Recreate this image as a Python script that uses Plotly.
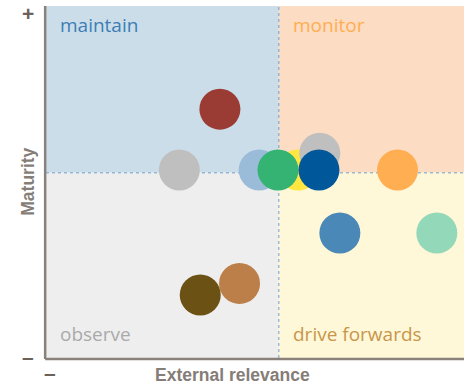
import plotly.graph_objects as go

# Bubble data (axis units 0-10)
names = ["A", "B", "C", "D", "E", "F", "G", "H", "I", "J", "K", "L"]
x_vals = [4.16, 3.19, 5.10, 6.03, 6.55, 5.55, 6.53, 8.41, 7.03, 9.35, 4.63, 3.69]
y_vals = [7.07, 5.34, 5.34, 5.34, 5.82, 5.34, 5.34, 5.34, 3.55, 3.55, 2.12, 1.79]
colors = ["#9a3c34", "#bfbfbf", "#9bbcd8", "#ffe640", "#bfbfbf", "#35b373",
          "#00589a", "#ffae52", "#4a88b8", "#93d8b8", "#bd7f4a", "#6b5214"]

x_mid = 5.57
y_mid = 5.26
quad_labels = ["maintain", "monitor", "observe", "drive forwards"]
quad_colors = ["#3d7db5", "#ffae52", "#aaaaaa", "#c8964a"]
quad_fills = ["#cbdde9", "#fcdcc2", "#eeeeee", "#fff8d8"]

fig = go.Figure()
for n, x, y, c in zip(names, x_vals, y_vals, colors):
    fig.add_trace(go.Scatter(x=[x], y=[y], mode="markers", name=n,
                             marker=dict(size=41, color=c, line=dict(width=0)),
                             hoverinfo="skip", showlegend=False))

shapes = [
    dict(type="rect", xref="x", yref="y", x0=0, x1=x_mid, y0=y_mid, y1=10,
         fillcolor=quad_fills[0], line=dict(width=0), layer="below"),
    dict(type="rect", xref="x", yref="y", x0=x_mid, x1=10, y0=y_mid, y1=10,
         fillcolor=quad_fills[1], line=dict(width=0), layer="below"),
    dict(type="rect", xref="x", yref="y", x0=0, x1=x_mid, y0=0, y1=y_mid,
         fillcolor=quad_fills[2], line=dict(width=0), layer="below"),
    dict(type="rect", xref="x", yref="y", x0=x_mid, x1=10, y0=0, y1=y_mid,
         fillcolor=quad_fills[3], line=dict(width=0), layer="below"),
    dict(type="line", xref="x", yref="y", x0=x_mid, x1=x_mid, y0=0, y1=10,
         line=dict(color="#6f9fcf", width=1, dash="dot"), layer="below"),
    dict(type="line", xref="x", yref="y", x0=0, x1=10, y0=y_mid, y1=y_mid,
         line=dict(color="#6f9fcf", width=1, dash="dot"), layer="below"),
    dict(type="line", xref="paper", yref="paper", x0=-0.002, x1=-0.002, y0=-0.003, y1=1,
         line=dict(color="#8a817a", width=2.5)),
    dict(type="line", xref="paper", yref="paper", x0=-0.002, x1=1, y0=-0.003, y1=-0.003,
         line=dict(color="#8a817a", width=2.5)),
]

font_name = "Open Sans"
annotations = []
lab_pos = [(0.28, 9.45), (x_mid + 0.28, 9.45), (0.28, 0.68), (x_mid + 0.28, 0.68)]
for (lx, ly), t, c in zip(lab_pos, quad_labels, quad_colors):
    annotations.append(dict(x=lx, y=ly, xref="x", yref="y", text=t, showarrow=False,
                            xanchor="left", yanchor="middle",
                            font=dict(family=font_name, size=19, color=c)))

axis_col = "#857d77"
title_font = "Liberation Sans"
annotations += [
    dict(x=0.447, y=-0.049, xref="paper", yref="paper", text="<b>External relevance</b>",
         showarrow=False, xanchor="center", yanchor="middle",
         font=dict(family=title_font, size=17.5, color=axis_col)),
    dict(x=-0.042, y=0.502, xref="paper", yref="paper", text="<b>Maturity</b>",
         showarrow=False, textangle=-90, xanchor="center", yanchor="middle",
         font=dict(family=title_font, size=17.5, color=axis_col)),
    dict(x=-0.043, y=0.979, xref="paper", yref="paper", text="<b>+</b>",
         showarrow=False, xanchor="center", yanchor="middle",
         font=dict(family=title_font, size=21, color="#6b625c")),
    dict(x=-0.043, y=0.003, xref="paper", yref="paper", text="<b>–</b>",
         showarrow=False, xanchor="center", yanchor="middle",
         font=dict(family=title_font, size=21, color="#6b625c")),
    dict(x=0.01, y=-0.0785, xref="paper", yref="paper", text="<b>–</b>",
         showarrow=False, xanchor="center", yanchor="bottom",
         font=dict(family=title_font, size=21, color="#6b625c")),
]

fig.update_layout(
    width=464, height=386,
    margin=dict(l=46, r=0, t=6, b=28),
    paper_bgcolor="white", plot_bgcolor="white",
    shapes=shapes, annotations=annotations,
    xaxis=dict(range=[0, 10], showgrid=False, zeroline=False, showticklabels=False,
               ticks="", fixedrange=True),
    yaxis=dict(range=[0, 10], showgrid=False, zeroline=False, showticklabels=False,
               ticks="", fixedrange=True),
    showlegend=False,
)

fig.write_html("out.html", config=dict(displayModeBar=False),
               post_script="document.body.style.margin='0';document.body.style.overflow='hidden';")
